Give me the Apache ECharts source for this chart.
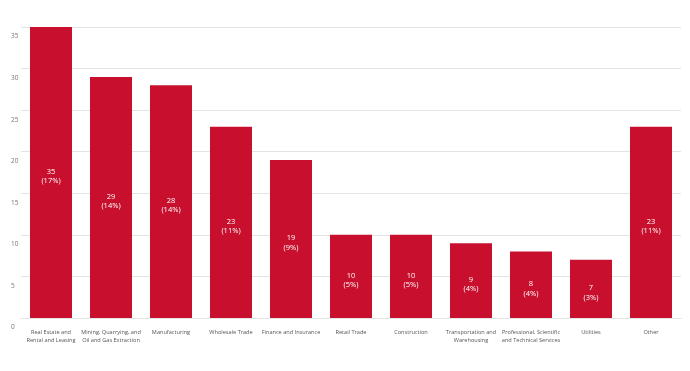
<!DOCTYPE html>
<html><head><meta charset="utf-8">
<script src="https://cdn.jsdelivr.net/npm/echarts@6/dist/echarts.min.js"></script>
<style>html,body{margin:0;padding:0;background:#fff}#c{width:690px;height:371px}</style>
</head><body><div id="c"></div>
<script>
const categories = ["Real Estate and\nRental and Leasing","Mining, Quarrying, and\nOil and Gas Extraction","Manufacturing","Wholesale Trade","Finance and Insurance","Retail Trade","Construction","Transportation and\nWarehousing","Professional, Scientific\nand Technical Services","Utilities","Other"];
const values = [35,29,28,23,19,10,10,9,8,7,23];
const percents = ["17%","14%","14%","11%","9%","5%","5%","4%","4%","3%","11%"];
const yTicks = [0,5,10,15,20,25,30,35];

const chart = echarts.init(document.getElementById('c'));
chart.setOption({
  animation:false,
  textStyle:{fontFamily:'Open Sans'},
  grid:{left:21,right:9,top:27,bottom:53,containLabel:false},
  xAxis:{type:'category',data:categories,
    axisLine:{show:true,lineStyle:{color:'#e3e3e3'}},axisTick:{show:false},
    axisLabel:{interval:0,color:'#555',fontSize:5.6,lineHeight:7.5,margin:11,fontFamily:'Open Sans'}},
  yAxis:{type:'value',min:0,max:35,interval:5,
    axisLine:{show:false},axisTick:{show:false},
    splitLine:{lineStyle:{color:'#e3e3e3'}},
    axisLabel:{color:'#777',fontSize:6.5,margin:10,align:'left',verticalAlign:'top',padding:[6,0,0,0],fontFamily:'Open Sans',
      formatter:v=>yTicks.includes(v)?String(v):''}},
  series:[{type:'bar',data:values,barWidth:'70%',
    itemStyle:{color:'#c8102e'},
    label:{show:true,position:'inside',offset:[0,4],color:'#fff',fontSize:7.5,lineHeight:9.5,fontFamily:'Open Sans',
      formatter:p=>p.value+'\n('+percents[p.dataIndex]+')'}}]
});
</script></body></html>
